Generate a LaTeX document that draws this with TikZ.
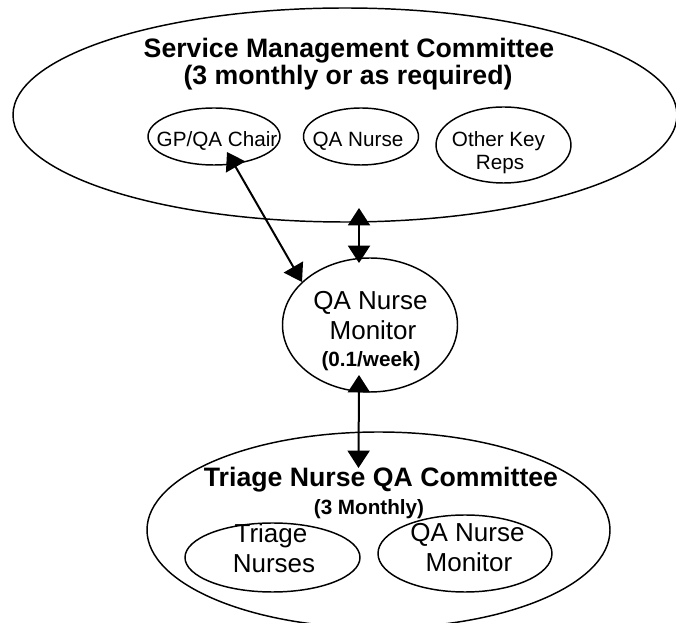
\documentclass[tikz,border=0pt]{standalone}
\usepackage{fontspec}
\setmainfont{Liberation Sans}
\usetikzlibrary{shapes.geometric,arrows.meta,calc}
\begin{document}
\begin{tikzpicture}[x=0.75pt,y=-0.75pt,
  ell/.style={draw, ellipse, line width=1.1pt, inner sep=0pt, outer sep=0pt},
  dbl/.style={line width=1.5pt, {Triangle[width=16.5pt,length=13pt]}-{Triangle[width=16.5pt,length=13pt]}},
  ttl/.style={anchor=base, inner sep=0pt, font=\fontsize{20}{24}\selectfont\bfseries},
  sub/.style={anchor=base, inner sep=0pt, font=\fontsize{15.5}{18}\selectfont\bfseries},
  sml/.style={anchor=base, inner sep=0pt, font=\fontsize{15.5}{18}\selectfont},
  med/.style={anchor=base, inner sep=0pt, font=\fontsize{19.5}{22}\selectfont}
]
\useasboundingbox[fill=white] (0,0) rectangle (676,623);

% Service Management Committee
\node[ell, minimum width=498pt, minimum height=160.5pt] (smc) at (345,115) {};
\node[ttl] (smct1) at (349,58) {Service Management Committee};
\node[ttl] (smct2) at (348,85) {(3 monthly or as required)};

\node[ell, minimum width=99pt, minimum height=42.75pt] (gp) at (214,136.5) {};
\node[sml] (gpt) at (217,147) {GP/QA Chair};
\node[ell, minimum width=86.25pt, minimum height=42.75pt] (qan) at (361,136.5) {};
\node[sml] (qant) at (358,147) {QA Nurse};
\node[ell, minimum width=101.25pt, minimum height=57pt] (okr) at (503.5,145) {};
\node[sml] (okrt1) at (498.5,146.5) {Other Key};
\node[sml] (okrt2) at (500,170) {Reps};

% QA Nurse Monitor
\node[ell, minimum width=131.25pt, minimum height=100.5pt] (mon) at (370,325) {};
\node[med] (mont1) at (370.5,310) {QA Nurse};
\node[med] (mont2) at (373,340) {Monitor};
\node[sub] (mont3) at (371,367) {(0.1/week)};

% Triage Nurse QA Committee
\node[ell, minimum width=347.25pt, minimum height=147pt] (tnc) at (378.5,530) {};
\node[ttl] (tnct1) at (381,487) {Triage Nurse QA Committee};
\node[sub] (tnct2) at (369,515) {(3 Monthly)};

\node[ell, minimum width=131.25pt, minimum height=51.75pt] (tn) at (272.5,557.5) {};
\node[med] (tnt1) at (271,543) {Triage};
\node[med] (tnt2) at (274,573) {Nurses};
\node[ell, minimum width=130.5pt, minimum height=57.75pt] (qm) at (465,553.5) {};
\node[med] (qmt1) at (467.5,542) {QA Nurse};
\node[med] (qmt2) at (469,572) {Monitor};

% connectors
\draw[dbl] ([shift={(13,15.5)}]gp.center) -- ([shift={(-68,-43)}]mon.center);
\draw[dbl] ([shift={(14,93)}]smc.center) -- ([shift={(-11,-62)}]mon.center);
\draw[dbl] ([shift={(-11,50)}]mon.center) -- ([shift={(-20,-62)}]tnc.center);
\end{tikzpicture}
\end{document}
